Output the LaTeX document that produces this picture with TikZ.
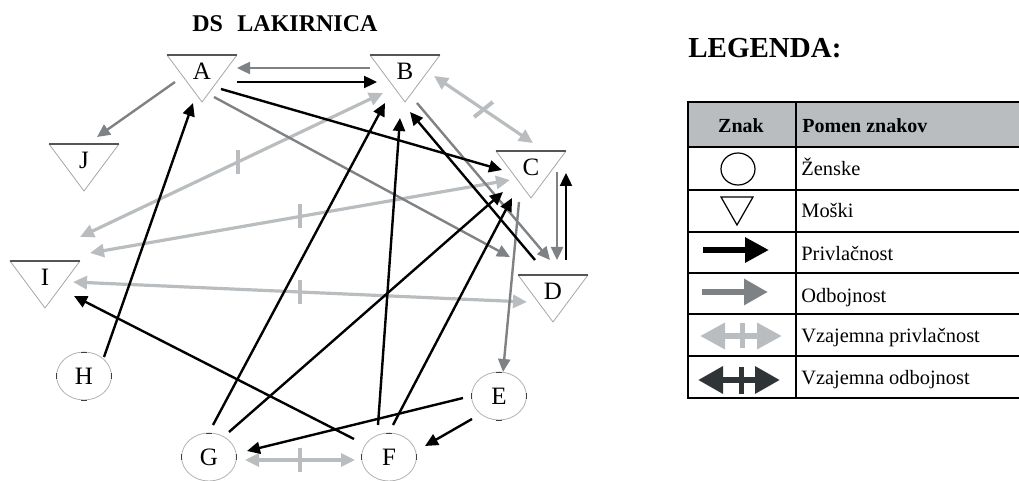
\documentclass[tikz,border=0pt]{standalone}
\usepackage{fontspec}
\setmainfont{Liberation Serif}
\usetikzlibrary{arrows.meta,shapes.geometric}
\definecolor{dgray}{HTML}{7F8284}
\definecolor{lgray}{HTML}{B9BDBF}
\definecolor{xdark}{HTML}{2F3436}
\definecolor{trigray}{HTML}{555555}
\begin{document}
\begin{tikzpicture}[x=0.5pt,y=-0.5pt,
  lbl/.style={font=\fontsize{12.5}{14}\selectfont, inner sep=0pt},
  att/.style={line width=1.2pt, black, -{Triangle[length=6.5pt,width=6pt]}},
  rep/.style={line width=1.2pt, dgray, -{Triangle[length=6.5pt,width=6pt]}},
  mut/.style={line width=1.6pt, lgray, {Triangle[length=7pt,width=6.5pt]}-{Triangle[length=7pt,width=6.5pt]}},
  tick/.style={fill=lgray, draw=none, minimum width=2pt, minimum height=12pt, inner sep=0pt},
  tritop/.style={line width=0.75pt, trigray},
  triside/.style={line width=0.4pt, black!35},
  circ/.style={line width=0.4pt, black!30},
  ctick/.style={line width=0.5pt, black!75},
  legtxt/.style={font=\fontsize{10.2}{12}\selectfont, anchor=base west, inner sep=0pt},
  leghead/.style={font=\bfseries\fontsize{10}{12}\selectfont, anchor=base, inner sep=0pt},
  tline/.style={line width=1pt, black},
]
\useasboundingbox (0,0) rectangle (1019,481);

% title
\node[font=\bfseries\fontsize{12}{14}\selectfont, anchor=base west, inner sep=0pt] (title) at (192,32) {DS\hspace{0.6em}LAKIRNICA};

% male nodes (triangles)
\node[lbl] (A) at (202,71) {A};
\node[lbl] (B) at (405,71) {B};
\node[lbl] (C) at (531,167) {C};
\node[lbl] (D) at (553,291) {D};
\node[lbl] (I) at (45,277) {I};
\node[lbl] (J) at (84,160) {J};
\foreach \n in {A,B,C,D,I,J}{
  \draw[triside] ([shift={(-35,-16)}]\n.center) -- ([shift={(0,31)}]\n.center) -- ([shift={(35,-16)}]\n.center);
  \draw[tritop] ([shift={(-35,-16)}]\n.center) -- ([shift={(35,-16)}]\n.center);
}

% female nodes (circles)
\node[lbl] (H) at (84,376) {H};
\node[lbl] (G) at (209,457) {G};
\node[lbl] (F) at (389,457) {F};
\node[lbl] (E) at (499,396) {E};
\foreach \n in {H,G,F,E}{
  \draw[circ] (\n.center) ellipse [x radius=13.7pt, y radius=12pt];
  \draw[ctick] ([shift={(-3,-24)}]\n.center) -- ([shift={(3,-24)}]\n.center);
  \draw[ctick] ([shift={(-3,24)}]\n.center) -- ([shift={(3,24)}]\n.center);
  \draw[ctick] ([shift={(-27.4,-3)}]\n.center) -- ([shift={(-27.4,3)}]\n.center);
  \draw[ctick] ([shift={(27.4,-3)}]\n.center) -- ([shift={(27.4,3)}]\n.center);
}

% mutual attraction (light gray)
\draw[mut] ([shift={(29,5)}]B.center) -- ([shift={(2,-24)}]C.center)
  node[pos=0.5, tick, rotate=-51] {};
\draw[mut] ([shift={(35,-40)}]I.center) -- ([shift={(-22,22)}]B.center)
  node[pos=0.52, tick] {};
\draw[mut] ([shift={(45,-24)}]I.center) -- ([shift={(-21,13)}]C.center)
  node[pos=0.5, tick] {};
\draw[mut] ([shift={(28,5)}]I.center) -- ([shift={(-26,11)}]D.center)
  node[pos=0.5, tick] {};
\draw[mut] ([shift={(36,3)}]G.center) -- ([shift={(-34,3)}]F.center)
  node[pos=0.5, tick] {};

% repulsion (dark gray)
\draw[rep] ([shift={(-35,-3)}]B.center) -- ([shift={(35,-3)}]A.center);
\draw[rep] ([shift={(-27,11)}]A.center) -- ([shift={(13,-23)}]J.center);
\draw[rep] ([shift={(12,26)}]A.center) -- ([shift={(-43,-34)}]D.center);
\draw[rep] ([shift={(12,32)}]B.center) -- ([shift={(-3,-31)}]D.center);
\draw[rep] ([shift={(26,5)}]C.center) -- ([shift={(4,-31)}]D.center);
\draw[rep] ([shift={(-12,35)}]C.center) -- ([shift={(4,-24)}]E.center);

% attraction (black)
\draw[att] ([shift={(35,11)}]A.center) -- ([shift={(-28,11)}]B.center);
\draw[att] ([shift={(19,18)}]A.center) -- ([shift={(-29,3)}]C.center);
\draw[att] ([shift={(-18,-31)}]D.center) -- ([shift={(5,41)}]B.center);
\draw[att] ([shift={(13,-31)}]D.center) -- ([shift={(35,6)}]C.center);
\draw[att] ([shift={(20,-19)}]H.center) -- ([shift={(-9,32)}]A.center);
\draw[att] ([shift={(-35,-18)}]F.center) -- ([shift={(29,19)}]I.center);
\draw[att] ([shift={(4,-32)}]G.center) -- ([shift={(-20,32)}]B.center);
\draw[att] ([shift={(20,-25)}]G.center) -- ([shift={(-28,25)}]C.center);
\draw[att] ([shift={(-11,-32)}]F.center) -- ([shift={(-5,47)}]B.center);
\draw[att] ([shift={(4,-32)}]F.center) -- ([shift={(-19,31)}]C.center);
\draw[att] ([shift={(-36,2)}]E.center) -- ([shift={(38,-6)}]G.center);
\draw[att] ([shift={(-27,23)}]E.center) -- ([shift={(36,-11)}]F.center);

% legend
\node[font=\bfseries\fontsize{14.5}{16}\selectfont, anchor=base west, inner sep=0pt] (legtitle) at (688,58) {LEGENDA:};
\fill[lgray] (688,102) rectangle (1025,147);
\foreach \yy in {102,147,190,232,273,314,356,398}{
  \draw[tline] (687,\yy) -- (1025,\yy);
}
\draw[tline] (688,102) -- (688,398);
\draw[tline] (796,102) -- (796,398);
\node[leghead] (h1) at (741,133) {Znak};
\node[leghead, anchor=base west] (h2) at (802,133) {Pomen znakov};

\node[draw=black, line width=0.6pt, ellipse, minimum width=17pt, minimum height=16pt, inner sep=0pt] (sf) at (738,169) {};
\draw[line width=0.6pt] (721,197) -- (753,197) -- (737,225) -- cycle;
\draw[line width=3.2pt, black, -{Triangle[length=12pt,width=12pt]}] (703,250) -- (769,250);
\draw[line width=3.2pt, dgray, -{Triangle[length=12pt,width=12.5pt]}] (702,292) -- (768,292);
\draw[line width=3.2pt, lgray, {Triangle[length=12.5pt,width=12.5pt]}-{Triangle[length=12.5pt,width=12.5pt]}] (700,336) -- (782,336);
\fill[lgray] (739.5,323) rectangle (744.5,348);
\draw[line width=3.2pt, xdark, {Triangle[length=12.5pt,width=13pt]}-{Triangle[length=12.5pt,width=13pt]}] (698,380) -- (780,380);
\fill[xdark] (738.5,367) rectangle (743.5,394);

\node[legtxt] (t1) at (801,176) {Ženske};
\node[legtxt] (t2) at (801,218) {Moški};
\node[legtxt] (t3) at (801,261) {Privlačnost};
\node[legtxt] (t4) at (801,303) {Odbojnost};
\node[legtxt] (t5) at (801,343) {Vzajemna privlačnost};
\node[legtxt] (t6) at (801,385) {Vzajemna odbojnost};
\end{tikzpicture}
\end{document}
